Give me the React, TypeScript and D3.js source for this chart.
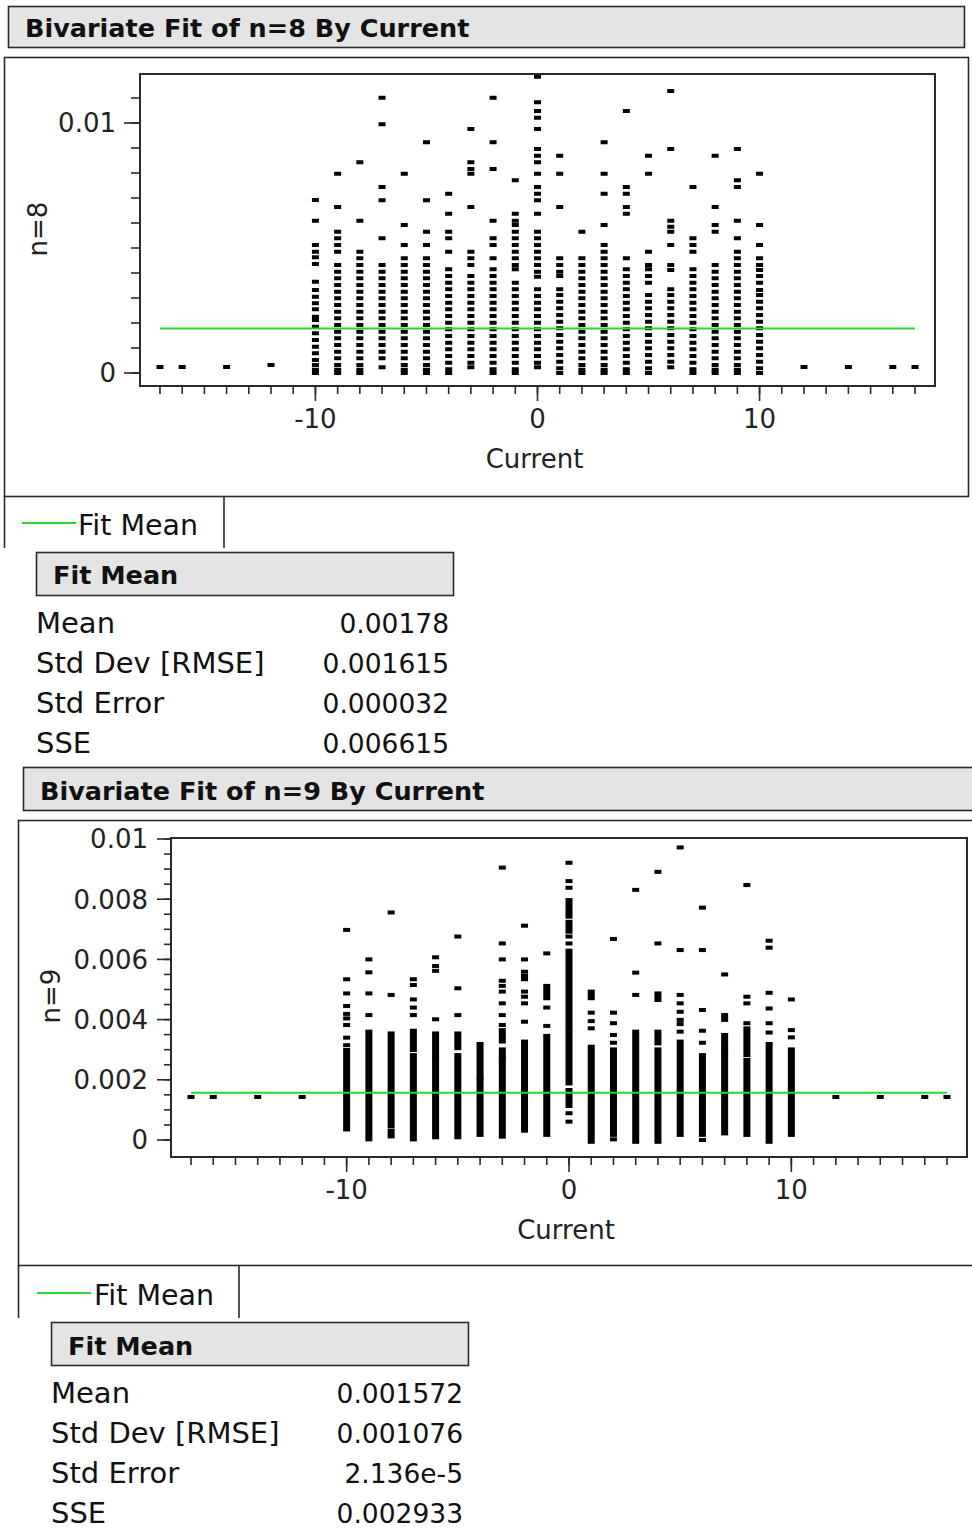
import React from 'react';
import * as d3 from 'd3';

// ---------------- DATA ----------------
const currentColumns = [-17, -16, -14, -12, -10, -9, -8, -7, -6, -5, -4, -3, -2, -1, 0, 1, 2, 3, 4, 5, 6, 7, 8, 9, 10, 12, 14, 16, 17];

// n=8 observations per Current level
const n8Values: number[][] = [
  [0.24e-3],
  [0.24e-3],
  [0.24e-3],
  [0.32e-3],
  [6.92e-3, 6.09e-3, 5.12e-3, 4.85e-3, 4.63e-3, 4.36e-3, 3.65e-3, 3.32e-3, 3.05e-3, 2.79e-3, 2.55e-3, 2.25e-3, 2.12e-3, 1.85e-3, 1.59e-3, 1.32e-3, 1.05e-3, 0.79e-3, 0.52e-3, 0.32e-3, 0.13e-3, 0],
  [7.97e-3, 6.64e-3, 5.65e-3, 5.39e-3, 5.12e-3, 4.85e-3, 4.32e-3, 4.05e-3, 3.79e-3, 3.52e-3, 3.25e-3, 2.99e-3, 2.72e-3, 2.45e-3, 2.19e-3, 1.92e-3, 1.65e-3, 1.39e-3, 1.12e-3, 0.85e-3, 0.59e-3, 0.32e-3, 0.13e-3, 0],
  [8.43e-3, 6.09e-3, 4.85e-3, 4.59e-3, 4.32e-3, 4.05e-3, 3.79e-3, 3.52e-3, 3.25e-3, 2.99e-3, 2.72e-3, 2.45e-3, 2.19e-3, 1.92e-3, 1.65e-3, 1.39e-3, 1.12e-3, 0.85e-3, 0.59e-3, 0.32e-3, 0.13e-3, 0],
  [11.01e-3, 9.95e-3, 7.44e-3, 6.91e-3, 5.39e-3, 4.32e-3, 4.05e-3, 3.79e-3, 3.52e-3, 3.25e-3, 2.99e-3, 2.72e-3, 2.45e-3, 2.19e-3, 1.92e-3, 1.65e-3, 1.39e-3, 1.12e-3, 0.85e-3, 0.59e-3, 0.23e-3],
  [7.97e-3, 5.92e-3, 5.12e-3, 4.59e-3, 4.32e-3, 4.05e-3, 3.79e-3, 3.52e-3, 3.25e-3, 2.99e-3, 2.72e-3, 2.45e-3, 2.19e-3, 1.92e-3, 1.65e-3, 1.39e-3, 1.12e-3, 0.85e-3, 0.59e-3, 0.32e-3, 0.13e-3, 0],
  [9.23e-3, 6.91e-3, 5.65e-3, 5.12e-3, 4.59e-3, 4.32e-3, 4.05e-3, 3.79e-3, 3.52e-3, 3.25e-3, 2.99e-3, 2.72e-3, 2.45e-3, 2.19e-3, 1.92e-3, 1.65e-3, 1.39e-3, 1.12e-3, 0.85e-3, 0.59e-3, 0.32e-3, 0.13e-3, 0],
  [7.17e-3, 6.37e-3, 5.65e-3, 5.39e-3, 4.85e-3, 4.15e-3, 3.88e-3, 3.61e-3, 3.35e-3, 3.08e-3, 2.81e-3, 2.55e-3, 2.28e-3, 2.01e-3, 1.75e-3, 1.48e-3, 1.21e-3, 0.95e-3, 0.68e-3, 0.41e-3, 0.15e-3, 0],
  [9.76e-3, 8.43e-3, 8.16e-3, 7.97e-3, 6.64e-3, 4.85e-3, 4.59e-3, 4.32e-3, 3.88e-3, 3.61e-3, 3.35e-3, 3.08e-3, 2.81e-3, 2.55e-3, 2.28e-3, 2.01e-3, 1.75e-3, 1.48e-3, 1.21e-3, 0.95e-3, 0.68e-3, 0.41e-3, 0.23e-3],
  [11.01e-3, 9.23e-3, 8.16e-3, 6.09e-3, 5.39e-3, 5.12e-3, 4.59e-3, 4.15e-3, 3.88e-3, 3.61e-3, 3.35e-3, 3.08e-3, 2.81e-3, 2.55e-3, 2.28e-3, 2.01e-3, 1.75e-3, 1.48e-3, 1.21e-3, 0.95e-3, 0.68e-3, 0.41e-3, 0.15e-3, 0],
  [7.71e-3, 6.37e-3, 6.09e-3, 5.92e-3, 5.65e-3, 5.39e-3, 5.12e-3, 4.85e-3, 4.59e-3, 4.32e-3, 4.15e-3, 3.61e-3, 3.35e-3, 3.08e-3, 2.81e-3, 2.55e-3, 2.28e-3, 2.01e-3, 1.75e-3, 1.48e-3, 1.21e-3, 0.95e-3, 0.68e-3, 0.41e-3, 0.15e-3, 0],
  [11.85e-3, 10.83e-3, 10.48e-3, 10.21e-3, 9.76e-3, 8.96e-3, 8.69e-3, 8.43e-3, 7.97e-3, 7.44e-3, 7.17e-3, 6.91e-3, 6.37e-3, 5.65e-3, 5.39e-3, 5.12e-3, 4.85e-3, 4.59e-3, 4.32e-3, 4.05e-3, 3.85e-3, 3.35e-3, 3.08e-3, 2.81e-3, 2.55e-3, 2.28e-3, 2.01e-3, 1.75e-3, 1.48e-3, 1.21e-3, 0.95e-3, 0.68e-3, 0.41e-3, 0.23e-3],
  [8.69e-3, 7.97e-3, 6.64e-3, 4.59e-3, 4.32e-3, 4.05e-3, 3.88e-3, 3.35e-3, 3.12e-3, 2.85e-3, 2.59e-3, 2.32e-3, 2.05e-3, 1.79e-3, 1.52e-3, 1.25e-3, 0.99e-3, 0.72e-3, 0.45e-3, 0.19e-3, 0],
  [5.65e-3, 4.59e-3, 4.32e-3, 4.05e-3, 3.79e-3, 3.52e-3, 3.25e-3, 2.99e-3, 2.72e-3, 2.45e-3, 2.19e-3, 1.92e-3, 1.65e-3, 1.39e-3, 1.12e-3, 0.85e-3, 0.59e-3, 0.32e-3, 0.13e-3, 0],
  [9.23e-3, 7.97e-3, 7.17e-3, 5.92e-3, 5.12e-3, 4.85e-3, 4.59e-3, 4.32e-3, 4.05e-3, 3.79e-3, 3.52e-3, 3.25e-3, 2.99e-3, 2.72e-3, 2.45e-3, 2.19e-3, 1.92e-3, 1.65e-3, 1.39e-3, 1.12e-3, 0.85e-3, 0.59e-3, 0.32e-3, 0.13e-3, 0],
  [10.48e-3, 7.44e-3, 7.17e-3, 6.64e-3, 6.37e-3, 4.59e-3, 4.15e-3, 3.88e-3, 3.61e-3, 3.35e-3, 3.08e-3, 2.81e-3, 2.55e-3, 2.28e-3, 2.01e-3, 1.75e-3, 1.48e-3, 1.21e-3, 0.95e-3, 0.68e-3, 0.41e-3, 0.15e-3, 0],
  [8.69e-3, 7.97e-3, 4.85e-3, 4.32e-3, 4.15e-3, 3.88e-3, 3.61e-3, 3.12e-3, 2.85e-3, 2.59e-3, 2.32e-3, 2.05e-3, 1.79e-3, 1.52e-3, 1.25e-3, 0.99e-3, 0.72e-3, 0.45e-3, 0.19e-3, 0],
  [11.28e-3, 8.96e-3, 6.09e-3, 5.85e-3, 5.65e-3, 5.12e-3, 4.32e-3, 4.12e-3, 3.35e-3, 3.12e-3, 2.85e-3, 2.59e-3, 2.32e-3, 2.05e-3, 1.79e-3, 1.52e-3, 1.25e-3, 0.99e-3, 0.72e-3, 0.45e-3, 0.23e-3],
  [7.44e-3, 5.39e-3, 5.12e-3, 4.85e-3, 4.15e-3, 3.88e-3, 3.61e-3, 3.35e-3, 3.08e-3, 2.81e-3, 2.55e-3, 2.28e-3, 2.01e-3, 1.75e-3, 1.48e-3, 1.21e-3, 0.95e-3, 0.68e-3, 0.41e-3, 0.15e-3, 0],
  [8.69e-3, 6.64e-3, 5.92e-3, 5.65e-3, 4.32e-3, 4.05e-3, 3.79e-3, 3.52e-3, 3.25e-3, 2.99e-3, 2.72e-3, 2.45e-3, 2.19e-3, 1.92e-3, 1.65e-3, 1.39e-3, 1.12e-3, 0.85e-3, 0.59e-3, 0.32e-3, 0.13e-3, 0],
  [8.96e-3, 7.71e-3, 7.44e-3, 6.09e-3, 5.39e-3, 4.85e-3, 4.59e-3, 4.32e-3, 4.05e-3, 3.79e-3, 3.52e-3, 3.25e-3, 2.99e-3, 2.72e-3, 2.45e-3, 2.19e-3, 1.92e-3, 1.65e-3, 1.39e-3, 1.12e-3, 0.85e-3, 0.59e-3, 0.32e-3, 0.13e-3, 0],
  [7.97e-3, 5.92e-3, 5.12e-3, 4.59e-3, 4.32e-3, 4.12e-3, 3.88e-3, 3.61e-3, 3.32e-3, 3.12e-3, 2.85e-3, 2.59e-3, 2.32e-3, 2.05e-3, 1.79e-3, 1.52e-3, 1.25e-3, 0.99e-3, 0.72e-3, 0.45e-3, 0.19e-3, 0],
  [0.24e-3],
  [0.24e-3],
  [0.24e-3],
  [0.24e-3],
];

// n=9 isolated observations per Current level
const n9Points: number[][] = [
  [1.43e-3],
  [1.43e-3],
  [1.43e-3],
  [1.43e-3],
  [6.98e-3, 5.34e-3, 4.87e-3, 4.45e-3, 4.19e-3, 4.04e-3, 3.82e-3, 3.4e-3, 3.15e-3],
  [6.0e-3, 5.57e-3, 4.87e-3, 4.15e-3],
  [7.56e-3, 4.82e-3],
  [5.34e-3, 5.15e-3, 4.67e-3, 4.4e-3, 4.15e-3],
  [6.07e-3, 5.78e-3, 5.62e-3, 4.01e-3],
  [6.76e-3, 5.04e-3, 4.15e-3],
  [],
  [9.05e-3, 6.53e-3, 6.0e-3, 5.29e-3, 5.12e-3, 4.93e-3, 4.54e-3, 4.15e-3, 3.82e-3],
  [7.12e-3, 6.0e-3, 5.59e-3, 5.45e-3, 5.34e-3, 4.93e-3, 4.76e-3, 4.54e-3, 3.93e-3],
  [6.2e-3, 4.4e-3, 3.79e-3],
  [9.21e-3, 8.6e-3, 8.38e-3, 6.76e-3, 6.53e-3, 0.89e-3, 0.61e-3],
  [4.23e-3, 3.95e-3, 3.71e-3],
  [6.68e-3, 4.23e-3, 3.88e-3, 3.49e-3, 3.23e-3, 0.02e-3],
  [8.31e-3, 5.56e-3, 4.82e-3],
  [8.91e-3, 6.53e-3],
  [9.72e-3, 6.31e-3, 4.82e-3, 4.54e-3, 4.26e-3, 3.99e-3, 3.85e-3, 3.6e-3],
  [7.72e-3, 6.31e-3, 4.32e-3, 3.63e-3, 3.23e-3, 0],
  [5.5e-3],
  [8.47e-3, 4.76e-3, 4.54e-3, 3.88e-3],
  [6.62e-3, 6.39e-3, 4.89e-3, 4.37e-3, 3.88e-3, 3.57e-3],
  [4.67e-3, 3.65e-3, 3.41e-3],
  [1.43e-3],
  [1.43e-3],
  [1.43e-3],
  [1.43e-3],
];

// n=9 densely packed observations: [low, high] of continuous stacks
const n9Runs: [number, number][][] = [
  [], [], [], [],
  [[0.35e-3, 2.99e-3]],
  [[0.02e-3, 3.6e-3]],
  [[0.45e-3, 3.54e-3], [0.12e-3, 0.3e-3]],
  [[2.99e-3, 3.63e-3], [0.02e-3, 2.82e-3]],
  [[2.77e-3, 3.54e-3], [0.09e-3, 2.68e-3]],
  [[3.05e-3, 3.54e-3], [0.09e-3, 2.82e-3]],
  [[2.1e-3, 3.19e-3], [0.17e-3, 2.02e-3]],
  [[3.27e-3, 3.65e-3], [2.75e-3, 3.01e-3], [0.11e-3, 2.68e-3]],
  [[0.31e-3, 3.27e-3]],
  [[4.71e-3, 5.12e-3], [0.17e-3, 3.46e-3]],
  [[7.42e-3, 7.97e-3], [6.92e-3, 7.25e-3], [3.66e-3, 6.29e-3], [1.88e-3, 3.54e-3], [1.13e-3, 1.66e-3]],
  [[4.71e-3, 4.93e-3], [-0.06e-3, 3.1e-3]],
  [[0.17e-3, 3.01e-3]],
  [[-0.06e-3, 3.6e-3]],
  [[4.65e-3, 4.87e-3], [3.21e-3, 3.6e-3], [-0.06e-3, 3.01e-3]],
  [[0.17e-3, 3.27e-3]],
  [[0.17e-3, 2.82e-3]],
  [[3.99e-3, 4.15e-3], [2.99e-3, 3.49e-3], [0.22e-3, 2.88e-3]],
  [[2.82e-3, 3.71e-3], [0.17e-3, 2.66e-3]],
  [[-0.06e-3, 3.19e-3]],
  [[0.17e-3, 3.01e-3]],
  [], [], [], [],
];

const xMajorTicks = [-10, 0, 10];
const xMajorLabels = ['-10', '0', '10'];
const xMinorTicks = d3.range(-17, 18);

const n8YMajor = [0, 0.01];
const n8YLabels = ['0', '0.01'];
const n8YMinor = d3.range(0, 0.0115, 0.001);

const n9YMajor = [0, 0.002, 0.004, 0.006, 0.008, 0.01];
const n9YLabels = ['0', '0.002', '0.004', '0.006', '0.008', '0.01'];
const n9YMinor = d3.range(0, 0.01001, 0.0005);

const statLabels = ['Mean', 'Std Dev [RMSE]', 'Std Error', 'SSE'];
const n8Stats = ['0.00178', '0.001615', '0.000032', '0.006615'];
const n9Stats = ['0.001572', '0.001076', '2.136e-5', '0.002933'];
const n8Mean = 0.00178;
const n9Mean = 0.001572;
const fitRange = [-17, 17];

// ---------------- LAYOUT ----------------
const FONT = '"DejaVu Sans", Verdana, sans-serif';
const GREEN = '#2ad82a';
const EDGE = '#2a2a2a';
const HEADER_FILL = '#e4e4e4';

type Layout = {
  header: { x: number; y: number; w: number; h: number; tx: number; ty: number };
  frame: { x: number; y: number; w: number; h: number };
  plot: { x0: number; x1: number; y0: number; y1: number };
  yRange: [number, number];
  yMajorLen: number; yMinorLen: number; yLabelX: number;
  yTitle: { x: number; y: number };
  xMajorLen: number; xMinorLen: number;
  xLabelY: number; xTitleY: number;
  legend: { y1: number; xr: number; lx0: number; lx1: number; ly: number; tx: number; ty: number };
  table: { x: number; y: number; w: number; h: number; tx: number; ty: number; row0: number; dy: number; valX: number };
};

const L1: Layout = {
  header: { x: 8, y: 6, w: 956, h: 41, tx: 25, ty: 37 },
  frame: { x: 4, y: 57, w: 964, h: 439 },
  plot: { x0: 140, x1: 935, y0: 74, y1: 386 },
  yRange: [373, 123],
  yMajorLen: 16, yMinorLen: 9, yLabelX: 116,
  yTitle: { x: 38, y: 229 },
  xMajorLen: 15, xMinorLen: 8,
  xLabelY: 428, xTitleY: 468,
  legend: { y1: 548, xr: 224, lx0: 22, lx1: 76, ly: 523, tx: 78, ty: 535 },
  table: { x: 36, y: 552, w: 417, h: 43, tx: 53, ty: 584, row0: 633, dy: 40, valX: 449 },
};

const L2: Layout = {
  header: { x: 23, y: 767, w: 960, h: 43, tx: 40, ty: 800 },
  frame: { x: 18, y: 820, w: 970, h: 445 },
  plot: { x0: 171, x1: 967, y0: 838, y1: 1157 },
  yRange: [1140, 839],
  yMajorLen: 14, yMinorLen: 7, yLabelX: 148,
  yTitle: { x: 51, y: 996 },
  xMajorLen: 15, xMinorLen: 8,
  xLabelY: 1199, xTitleY: 1239,
  legend: { y1: 1318, xr: 239, lx0: 37, lx1: 91, ly: 1293, tx: 94, ty: 1305 },
  table: { x: 51, y: 1322, w: 417, h: 43, tx: 68, ty: 1355, row0: 1403, dy: 40, valX: 463 },
};

type ReportProps = {
  L: Layout;
  title: string;
  yName: string;
  points: number[][];
  runs?: [number, number][][];
  mean: number;
  yMajor: number[];
  yLabels: string[];
  yMinor: number[];
  stats: string[];
};

function Report({ L, title, yName, points, runs, mean, yMajor, yLabels, yMinor, stats }: ReportProps) {
  const x = d3.scaleLinear().domain([-17.9, 17.9]).range([L.plot.x0, L.plot.x1]);
  const y = d3.scaleLinear().domain([0, 0.01]).range(L.yRange);
  const mw = 7;
  const mh = 4;
  const p = L.plot;

  return (
    <g>
      {/* header */}
      <rect x={L.header.x + 0.5} y={L.header.y + 0.5} width={L.header.w} height={L.header.h}
        fill={HEADER_FILL} stroke={EDGE} strokeWidth={1.6} />
      <text x={L.header.tx} y={L.header.ty} fontFamily={FONT} fontWeight="bold" fontSize={25.5} fill="#111">{title}</text>

      {/* outer frame */}
      <rect x={L.frame.x + 0.5} y={L.frame.y + 0.5} width={L.frame.w} height={L.frame.h}
        fill="none" stroke={EDGE} strokeWidth={1.6} />

      {/* runs (densely packed markers) */}
      {runs && runs.map((col, i) => col.map(([lo, hi], j) => (
        <rect key={`r${i}-${j}`} x={x(currentColumns[i]) - mw / 2} y={y(hi) - mh / 2}
          width={mw} height={y(lo) - y(hi) + mh} fill="#000" />
      )))}

      {/* individual markers */}
      {points.map((col, i) => col.map((v, j) => (
        <rect key={`p${i}-${j}`} x={x(currentColumns[i]) - mw / 2} y={y(v) - mh / 2}
          width={mw} height={mh} fill="#000" />
      )))}

      {/* fit mean line */}
      <line x1={x(fitRange[0])} x2={x(fitRange[1])} y1={y(mean)} y2={y(mean)} stroke={GREEN} strokeWidth={2} />

      {/* plot frame */}
      <rect x={p.x0} y={p.y0} width={p.x1 - p.x0} height={p.y1 - p.y0} fill="none" stroke={EDGE} strokeWidth={2} />

      {/* y axis */}
      {yMinor.map((t, i) => (
        <line key={`ym${i}`} x1={p.x0 - L.yMinorLen} x2={p.x0} y1={y(t)} y2={y(t)} stroke={EDGE} strokeWidth={1.6} />
      ))}
      {yMajor.map((t, i) => (
        <g key={`yM${i}`}>
          <line x1={p.x0 - L.yMajorLen} x2={p.x0} y1={y(t)} y2={y(t)} stroke={EDGE} strokeWidth={1.6} />
          <text x={L.yLabelX} y={y(t)} dy="0.36em" textAnchor="end" fontFamily={FONT} fontSize={26} fill="#222">{yLabels[i]}</text>
        </g>
      ))}
      <text transform={`translate(${L.yTitle.x},${L.yTitle.y}) rotate(-90)`} textAnchor="middle" dy="0.36em"
        fontFamily={FONT} fontSize={26} fill="#222">{yName}</text>

      {/* x axis */}
      {xMinorTicks.map((t, i) => (
        <line key={`xm${i}`} x1={x(t)} x2={x(t)} y1={p.y1} y2={p.y1 + L.xMinorLen} stroke={EDGE} strokeWidth={1.6} />
      ))}
      {xMajorTicks.map((t, i) => (
        <g key={`xM${i}`}>
          <line x1={x(t)} x2={x(t)} y1={p.y1} y2={p.y1 + L.xMajorLen} stroke={EDGE} strokeWidth={1.6} />
          <text x={x(t)} y={L.xLabelY} textAnchor="middle" fontFamily={FONT} fontSize={26} fill="#222">{xMajorLabels[i]}</text>
        </g>
      ))}
      <text x={(p.x0 + p.x1) / 2 - 3} y={L.xTitleY} textAnchor="middle" fontFamily={FONT} fontSize={26} fill="#222">Current</text>

      {/* legend */}
      <line x1={L.frame.x + 0.5} x2={L.frame.x + 0.5} y1={L.frame.y + L.frame.h} y2={L.legend.y1} stroke={EDGE} strokeWidth={1.6} />
      <line x1={L.legend.xr} x2={L.legend.xr} y1={L.frame.y + L.frame.h} y2={L.legend.y1} stroke={EDGE} strokeWidth={1.6} />
      <line x1={L.legend.lx0} x2={L.legend.lx1} y1={L.legend.ly} y2={L.legend.ly} stroke={GREEN} strokeWidth={2} />
      <text x={L.legend.tx} y={L.legend.ty} fontFamily={FONT} fontSize={28.5} fill="#111">Fit Mean</text>

      {/* Fit Mean table */}
      <rect x={L.table.x + 0.5} y={L.table.y + 0.5} width={L.table.w} height={L.table.h}
        fill={HEADER_FILL} stroke={EDGE} strokeWidth={1.6} />
      <text x={L.table.tx} y={L.table.ty} fontFamily={FONT} fontWeight="bold" fontSize={25.5} fill="#111">Fit Mean</text>
      {statLabels.map((s, i) => (
        <g key={`st${i}`}>
          <text x={L.table.x} y={L.table.row0 + i * L.table.dy} fontFamily={FONT} fontSize={29} fill="#111">{s}</text>
          <text x={L.table.valX} y={L.table.row0 + i * L.table.dy} textAnchor="end" fontFamily={FONT} fontSize={26.5} fill="#111">{stats[i]}</text>
        </g>
      ))}
    </g>
  );
}

export default function App() {
  return (
    <svg width={972} height={1531} viewBox="0 0 972 1531"
      style={{ position: 'absolute', left: 0, top: 0, background: '#fff' }}>
      <rect x={0} y={0} width={972} height={1531} fill="#fff" />
      <Report L={L1} title="Bivariate Fit of n=8 By Current" yName="n=8" points={n8Values}
        mean={n8Mean} yMajor={n8YMajor} yLabels={n8YLabels} yMinor={n8YMinor} stats={n8Stats} />
      <Report L={L2} title="Bivariate Fit of n=9 By Current" yName="n=9" points={n9Points} runs={n9Runs}
        mean={n9Mean} yMajor={n9YMajor} yLabels={n9YLabels} yMinor={n9YMinor} stats={n9Stats} />
    </svg>
  );
}
